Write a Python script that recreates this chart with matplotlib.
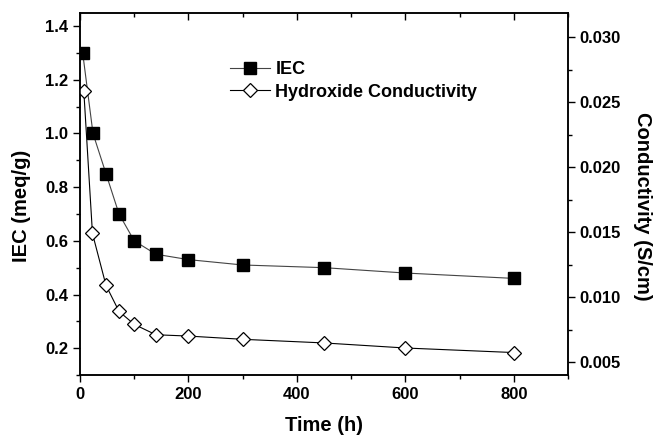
import numpy as np
import matplotlib
matplotlib.use("Agg")
import matplotlib.pyplot as plt
from matplotlib.ticker import MultipleLocator, FormatStrFormatter

plt.rcParams['font.family'] = ['Liberation Sans', 'DejaVu Sans']
plt.rcParams['font.weight'] = 'bold'

# data
time_h = [5, 24, 48, 72, 100, 140, 200, 300, 450, 600, 800]
iec = [1.30, 1.00, 0.85, 0.70, 0.60, 0.55, 0.53, 0.51, 0.50, 0.48, 0.46]
cond_time = [7, 23, 48, 72, 100, 140, 200, 300, 450, 600, 800]
conductivity = [0.0259, 0.0149, 0.0109, 0.0089, 0.0079, 0.0071, 0.0070,
                0.00675, 0.00647, 0.00608, 0.00573]

fig = plt.figure(figsize=(6.54, 4.38), dpi=100)
ax = fig.add_axes([0.1223, 0.1438, 0.7462, 0.8272])
ax2 = ax.twinx()

l1, = ax.plot(time_h, iec, color='#444444', lw=0.8, marker='s', ms=8,
              mfc='black', mec='black', label='IEC')
l2, = ax2.plot(cond_time, conductivity, color='black', lw=0.8, marker='D',
               ms=7.5, mfc='white', mec='black', mew=0.9,
               label='Hydroxide Conductivity')

ax.set_xlim(0, 900)
ax.set_ylim(0.1, 1.45)
ax2.set_ylim(0.004, 0.0319)

ax.xaxis.set_major_locator(MultipleLocator(200))
ax.xaxis.set_minor_locator(MultipleLocator(100))
ax.yaxis.set_major_locator(MultipleLocator(0.2))
ax.yaxis.set_minor_locator(MultipleLocator(0.1))
ax2.yaxis.set_major_locator(MultipleLocator(0.005))
ax2.yaxis.set_minor_locator(MultipleLocator(0.0025))

ax.tick_params(axis='x', which='both', direction='out', top=True, labelsize=12)
ax.tick_params(axis='x', which='major', length=5, width=1)
ax.tick_params(axis='x', which='minor', length=3, width=1)
ax.tick_params(axis='y', which='major', direction='out', length=5, width=1, labelsize=12)
ax.tick_params(axis='y', which='minor', direction='out', length=3, width=1)
ax2.tick_params(axis='y', which='major', direction='out', length=5, width=1, labelsize=12)
ax2.tick_params(axis='y', which='minor', direction='out', length=3, width=1)

# top ticks point inward
for t in ax.xaxis.get_major_ticks() + ax.xaxis.get_minor_ticks():
    t.tick2line.set_marker(3)

ax.yaxis.set_major_formatter(FormatStrFormatter('%.1f'))
ax2.yaxis.set_major_formatter(FormatStrFormatter('%.3f'))

for sp in list(ax.spines.values()) + list(ax2.spines.values()):
    sp.set_linewidth(1.1)

ax.set_xlabel('Time (h)', fontsize=14.5, fontweight='bold', labelpad=10)
ax.set_ylabel('IEC (meq/g)', fontsize=14.5, fontweight='bold',
              va='center', ha='center')
ax2.set_ylabel('Conductivity (S/cm)', fontsize=14.5, fontweight='bold',
               rotation=270, va='center', ha='center')
ax.yaxis.set_label_coords(-0.119, 0.467)
ax2.yaxis.set_label_coords(1.152, 0.467)

leg = ax2.legend([l1, l2], ['IEC', 'Hydroxide Conductivity'],
                 loc='upper left', bbox_to_anchor=(214 / 654, 1 - 45 / 438),
                 bbox_transform=fig.transFigure, frameon=False,
                 fontsize=13, handlelength=2.2, labelspacing=0.3,
                 handletextpad=0.3)
for txt in leg.get_texts():
    txt.set_fontweight('bold')

fig.savefig('out.png', dpi=100)
